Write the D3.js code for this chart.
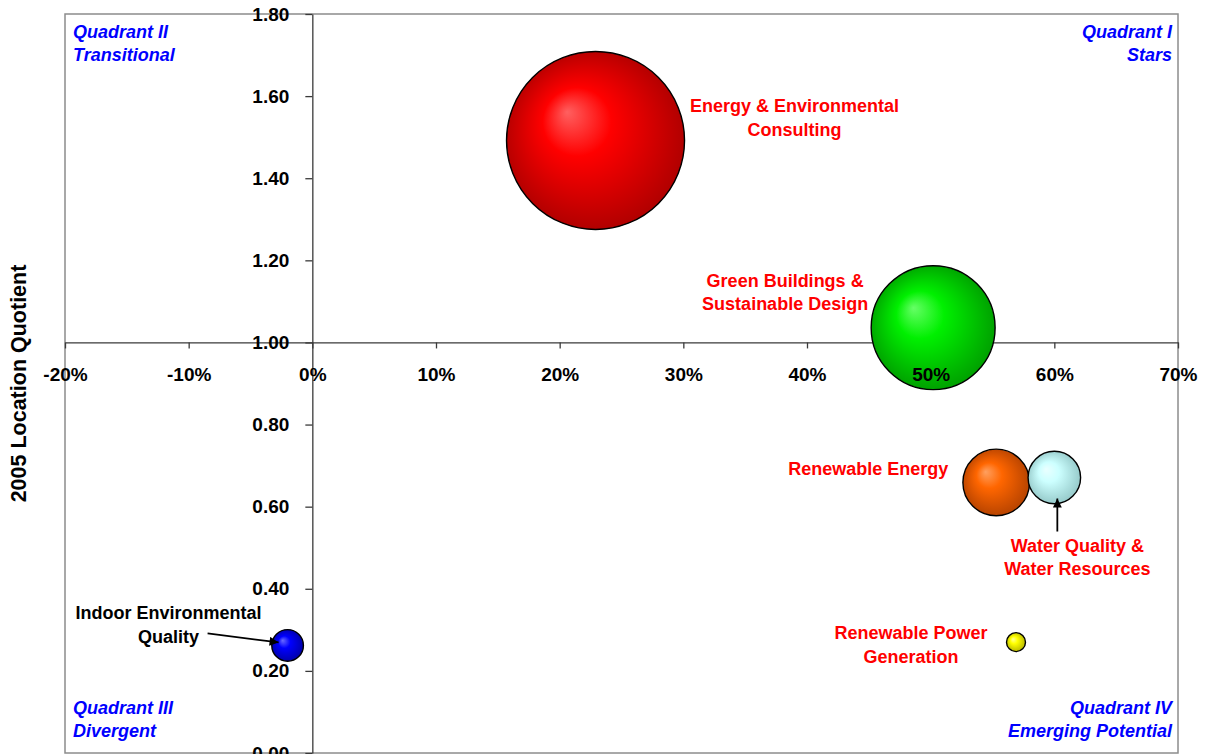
<!DOCTYPE html>
<html>
<head>
<meta charset="utf-8">
<script src="https://cdn.jsdelivr.net/npm/d3@7/dist/d3.min.js"></script>
<style>
  html, body { margin: 0; padding: 0; background: #fff; }
  svg { display: block; font-family: "Liberation Sans", Arial, sans-serif; }
</style>
</head>
<body>
<svg id="chart" width="1206" height="754"></svg>
<script>
// Cluster names, growth (x), 2005 location quotient (y) and bubble size (employment)
const clusters = [
  "Energy & Environmental Consulting",
  "Green Buildings & Sustainable Design",
  "Renewable Energy",
  "Water Quality & Water Resources",
  "Indoor Environmental Quality",
  "Renewable Power Generation"
];
const growth   = [0.229, 0.502, 0.553, 0.600, -0.020, 0.569];
const lq2005   = [1.492, 1.036, 0.659, 0.671, 0.262, 0.270];
const employment = [7920, 3840, 1110, 690, 250, 90];

// Axis ticks
const xTicks = [-0.2, -0.1, 0, 0.1, 0.2, 0.3, 0.4, 0.5, 0.6, 0.7];
const yTicks = [0, 0.2, 0.4, 0.6, 0.8, 1.0, 1.2, 1.4, 1.6, 1.8];

// Quadrant captions
const quadrants = [
  { lines: ["Quadrant II", "Transitional"], corner: "tl" },
  { lines: ["Quadrant I", "Stars"], corner: "tr" },
  { lines: ["Quadrant III", "Divergent"], corner: "bl" },
  { lines: ["Quadrant IV", "Emerging Potential"], corner: "br" }
];

// Styling and label placement for each cluster (pixel offsets from bubble centre)
const styles = [
  { hi: "#ff6060", base: "#ff0000", edge: "#a80000", label: ["Energy & Environmental", "Consulting"], color: "#ff0000", dx: 199, dy: -28 },
  { hi: "#66ff66", base: "#00f000", edge: "#009800", label: ["Green Buildings &", "Sustainable Design"], color: "#ff0000", dx: -148, dy: -41 },
  { hi: "#ffa060", base: "#ff6600", edge: "#b04000", label: ["Renewable Energy"], color: "#ff0000", dx: -128, dy: -7 },
  { hi: "#eaffff", base: "#ccffff", edge: "#90c4c4", label: ["Water Quality &", "Water Resources"], color: "#ff0000", dx: 23, dy: 74,
    arrow: [[3, 54], [3, 21]] },
  { hi: "#6a6aff", base: "#0000ff", edge: "#0000a0", label: ["Indoor Environmental", "Quality"], color: "#000000", dx: -119, dy: -26,
    arrow: [[-80, -12], [-9, -3]] },
  { hi: "#ffff9a", base: "#ffff00", edge: "#b0b000", label: ["Renewable Power", "Generation"], color: "#ff0000", dx: -105, dy: -3 }
];

const svg = d3.select("#chart");
const plotLeft = 65, plotRight = 1178, plotTop = 14, plotBottom = 753;

const x = d3.scaleLinear().domain([-0.2, 0.7]).range([plotLeft, plotRight]);
const y = d3.scaleLinear().domain([0, 1.8]).range([plotBottom, plotTop]);
const r = d3.scaleSqrt().domain([0, d3.max(employment)]).range([0, 89]);

const defs = svg.append("defs");
styles.forEach((s, i) => {
  const g = defs.append("radialGradient")
    .attr("id", "grad" + i)
    .attr("cx", "50%").attr("cy", "50%").attr("r", "55%")
    .attr("fx", "34%").attr("fy", "34%");
  g.append("stop").attr("offset", "0%").attr("stop-color", s.hi);
  g.append("stop").attr("offset", "35%").attr("stop-color", s.base);
  g.append("stop").attr("offset", "100%").attr("stop-color", s.edge);
});
defs.append("marker")
  .attr("id", "arrowhead")
  .attr("viewBox", "0 0 10 10")
  .attr("refX", 10).attr("refY", 5)
  .attr("markerWidth", 5.5).attr("markerHeight", 5)
  .attr("markerUnits", "strokeWidth")
  .attr("orient", "auto")
  .append("path").attr("d", "M0,0 L10,5 L0,10 Z").attr("fill", "#000");

// Plot area frame
svg.append("rect")
  .attr("x", plotLeft).attr("y", plotTop)
  .attr("width", plotRight - plotLeft).attr("height", plotBottom - plotTop)
  .attr("fill", "#fff").attr("stroke", "#8c8c8c").attr("stroke-width", 1.5);

// Axis lines and tick marks (labels drawn later, above the bubbles)
const axisColor = "#3a3a3a";
const xAxisLines = svg.append("g")
  .attr("transform", `translate(0,${y(1.0)})`)
  .call(d3.axisBottom(x).tickValues(xTicks).tickSize(6).tickSizeOuter(0).tickFormat(""));
const yAxisLines = svg.append("g")
  .attr("transform", `translate(${x(0)},0)`)
  .call(d3.axisLeft(y).tickValues(yTicks).tickSize(7).tickSizeOuter(0).tickFormat(""));
[xAxisLines, yAxisLines].forEach(g => {
  g.selectAll("path, line").attr("stroke", axisColor).attr("stroke-width", 1.3);
});

// Bubbles, largest first so small ones stay visible
const order = d3.range(clusters.length).sort((a, b) => employment[b] - employment[a]);
svg.append("g").selectAll("circle")
  .data(order)
  .join("circle")
  .attr("cx", i => x(growth[i]))
  .attr("cy", i => y(lq2005[i]))
  .attr("r", i => r(employment[i]))
  .attr("fill", i => `url(#grad${i})`)
  .attr("stroke", "#000")
  .attr("stroke-width", 1.4);

// Tick labels (plain hyphen for negatives)
const pct = d => d3.format(".0%")(d).replace("\u2212", "-");
const xLabels = svg.append("g")
  .attr("transform", `translate(0,${y(1.0)})`)
  .call(d3.axisBottom(x).tickValues(xTicks).tickSize(6).tickPadding(19.5).tickFormat(pct));
const yLabels = svg.append("g")
  .attr("transform", `translate(${x(0)},0)`)
  .call(d3.axisLeft(y).tickValues(yTicks).tickSize(7).tickPadding(16).tickFormat(d3.format(".2f")));
[xLabels, yLabels].forEach(g => {
  g.select(".domain").remove();
  g.selectAll("line").remove();
  g.selectAll("text")
    .attr("font-family", "'Liberation Sans', Arial, sans-serif")
    .attr("font-size", 19).attr("font-weight", "bold").attr("fill", "#000");
});

// Y axis title
svg.append("text")
  .attr("transform", `translate(26,${(plotTop + plotBottom) / 2}) rotate(-90)`)
  .attr("text-anchor", "middle")
  .attr("font-size", 21.5).attr("font-weight", "bold").attr("fill", "#000")
  .text("2005 Location Quotient");

// Cluster labels and pointer arrows
const lineH = 23.5;
styles.forEach((s, i) => {
  const cx = x(growth[i]), cy = y(lq2005[i]);
  const t = svg.append("text")
    .attr("text-anchor", "middle")
    .attr("font-size", 18).attr("font-weight", "bold").attr("fill", s.color);
  s.label.forEach((ln, k) => {
    t.append("tspan").attr("x", cx + s.dx).attr("y", cy + s.dy + k * lineH).text(ln);
  });
  if (s.arrow) {
    svg.append("line")
      .attr("x1", cx + s.arrow[0][0]).attr("y1", cy + s.arrow[0][1])
      .attr("x2", cx + s.arrow[1][0]).attr("y2", cy + s.arrow[1][1])
      .attr("stroke", "#000").attr("stroke-width", 1.8)
      .attr("marker-end", "url(#arrowhead)");
  }
});

// Quadrant captions
quadrants.forEach(q => {
  const isRight = q.corner[1] === "r";
  const isTop = q.corner[0] === "t";
  const tx = isRight ? plotRight - 6 : plotLeft + 8;
  const ty = isTop ? plotTop + 24 : plotBottom - 39;
  const t = svg.append("text")
    .attr("text-anchor", isRight ? "end" : "start")
    .attr("font-size", 18).attr("font-weight", "bold").attr("font-style", "italic")
    .attr("fill", "#0000ff");
  q.lines.forEach((ln, k) => {
    t.append("tspan").attr("x", tx).attr("y", ty + k * 23).text(ln);
  });
});
</script>
</body>
</html>
